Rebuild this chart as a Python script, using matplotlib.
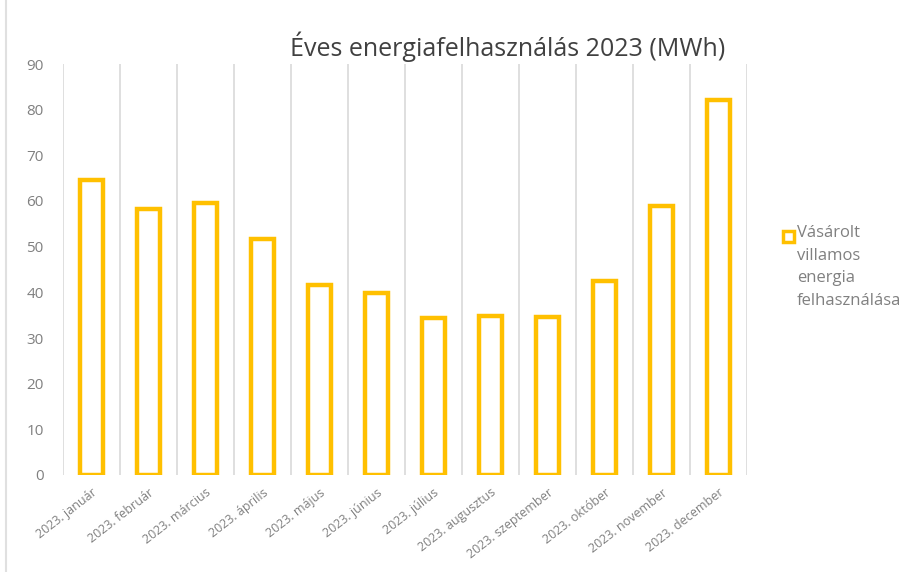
import matplotlib
matplotlib.use("Agg")
import matplotlib.pyplot as plt
from matplotlib.lines import Line2D
import numpy as np

categories = ["2023. január", "2023. február", "2023. március", "2023. április",
              "2023. május", "2023. június", "2023. július", "2023. augusztus",
              "2023. szeptember", "2023. október", "2023. november", "2023. december"]
values = [64.6, 58.2, 59.6, 51.7, 41.6, 39.9, 34.4, 34.8, 34.6, 42.5, 58.9, 82.1]
yticks = [0, 10, 20, 30, 40, 50, 60, 70, 80, 90]
title = "Éves energiafelhasználás 2023 (MWh)"
series_name = "Vásárolt\nvillamos\nenergia\nfelhasználása"

plt.rcParams['font.family'] = ['Open Sans', 'DejaVu Sans']
gold = "#FFC000"
gray = "#808080"
grid = "#D9D9D9"

fig = plt.figure(figsize=(9.04, 5.72), dpi=100)
W, H = 904, 572
ax = fig.add_axes([63 / W, 1 - 475 / H, (747 - 63) / W, (475 - 64) / H])

x = np.arange(len(categories))
ax.bar(x, values, width=0.42, facecolor="white", edgecolor=gold, linewidth=3.2, zorder=3)

ax.set_xlim(-0.5, len(categories) - 0.5)
ax.set_ylim(0, 90)
for b in np.arange(-0.5, len(categories), 1.0):
    ax.axvline(b, color=grid, linewidth=1.2, zorder=1)

for s in ax.spines.values():
    s.set_visible(False)
ax.set_yticks(yticks)
ax.set_yticklabels([str(v) for v in yticks], color=gray, fontsize=11)
ax.tick_params(axis='y', length=0, pad=14)
ax.set_xticks(x)
ax.set_xticklabels(categories, rotation=38, ha='right', rotation_mode='anchor',
                   color=gray, fontsize=9)
ax.tick_params(axis='x', length=0, pad=8)

fig.text(508 / W, 1 - 47 / H, title, ha='center', va='center', fontsize=18, color="#404040")

# legend
fig.patches.append(plt.Rectangle((783 / W, 1 - 242 / H), 11 / W, 11 / H,
                                 transform=fig.transFigure, facecolor="white",
                                 edgecolor=gold, linewidth=2.5))
fig.text(797 / W, 1 - 225 / H, series_name, ha='left', va='top', fontsize=12,
         color=gray, linespacing=1.55)

# chart border at left
fig.add_artist(Line2D([6 / W, 6 / W], [0, 1], transform=fig.transFigure, color="#E0E0E0", linewidth=1.5))

fig.savefig("out.png", dpi=100, facecolor="white")
